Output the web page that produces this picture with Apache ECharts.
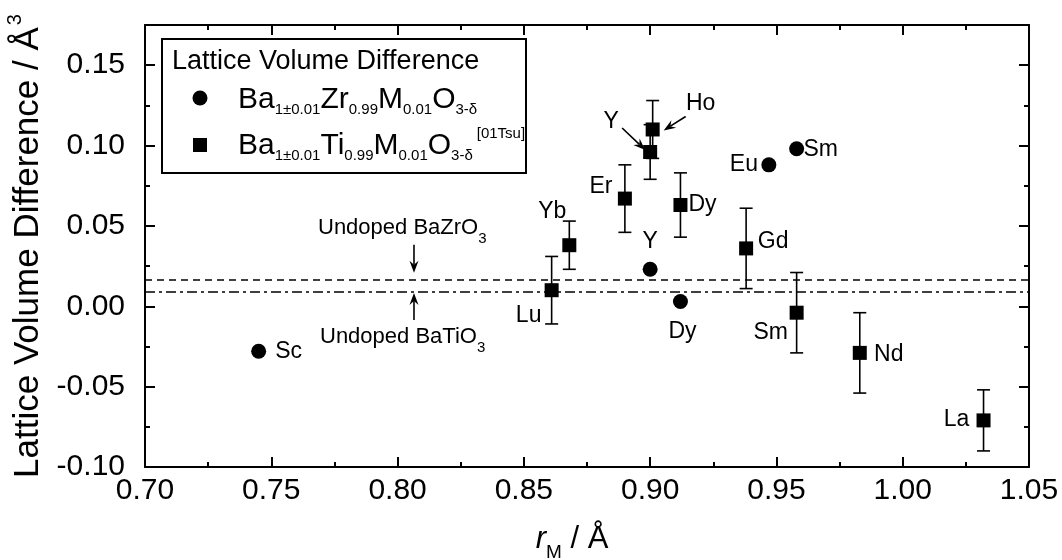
<!DOCTYPE html>
<html><head><meta charset="utf-8">
<script src="https://cdn.jsdelivr.net/npm/echarts@6/dist/echarts.min.js"></script>
<style>html,body{margin:0;padding:0;background:#fff}#c{width:1062px;height:560px}</style>
</head><body><div id="c"></div>
<script>
// ---- data ----
const xMin = 0.70, xMax = 1.05, xStep = 0.05;
const yMin = -0.10, yMax = 0.175, yStep = 0.05;

const zrNames = ['Sc', 'Y', 'Dy', 'Eu', 'Sm'];
const zrR     = [0.745, 0.900, 0.912, 0.947, 0.958];
const zrDV    = [-0.028, 0.023, 0.003, 0.088, 0.098];

const tiNames = ['Lu', 'Yb', 'Er', 'Y', 'Ho', 'Dy', 'Gd', 'Sm', 'Nd', 'La'];
const tiR     = [0.861, 0.868, 0.890, 0.900, 0.901, 0.912, 0.938, 0.958, 0.983, 1.032];
const tiDV    = [0.010, 0.038, 0.067, 0.096, 0.110, 0.063, 0.036, -0.004, -0.029, -0.071];
const tiErr   = [0.021, 0.015, 0.021, 0.017, 0.018, 0.020, 0.025, 0.025, 0.025, 0.019];

const undopedZr = 0.0165;
const undopedTi = 0.0089;
const annotX = 0.8065;

// ---- styling ----
const FONT = '"Liberation Sans", Arial, sans-serif';
const BLACK = '#000';
const labelOffsetZr = {Sc:[30,0], Y:[0,-28], Dy:[2,30], Eu:[-25,0], Sm:[24,1]};
const labelOffsetTi = {Lu:[-23,25], Yb:[-17,-34], Er:[-24,-12], Y:[-39,-30], Ho:[48,-26],
                       Dy:[22,0], Gd:[27,-7], Sm:[-26,20], Nd:[29,2], La:[-27,-1]};

const chart = echarts.init(document.getElementById('c'), null, {renderer: 'canvas'});

const fmt = v => (Math.abs(v) < 1e-9 ? 0 : v).toFixed(2);

function valueAxisCommon(min, max, step) {
  return {
    type: 'value', min: min, max: max, interval: step,
    axisLine: {show: true, onZero: false, lineStyle: {color: BLACK, width: 2}},
    axisTick: {show: true, inside: true, length: 10, lineStyle: {color: BLACK, width: 2}},
    minorTick: {show: true, splitNumber: 2, length: 5, lineStyle: {color: BLACK, width: 2}},
    splitLine: {show: false},
    minorSplitLine: {show: false}
  };
}

const pointLabelStyle = {fontFamily: FONT, fontSize: 23, color: BLACK, opacity: 1};

const option = {
  animation: false,
  backgroundColor: '#fff',
  grid: {left: 145, right: 33, top: 25, bottom: 93, containLabel: false, outerBoundsMode: 'none'},
  xAxis: [
    Object.assign(valueAxisCommon(xMin, xMax, xStep), {
      position: 'bottom',
      axisLabel: {show: true, margin: 9, fontFamily: FONT, fontSize: 30, color: BLACK, formatter: fmt},
      name: '{i|r}{sub|M} / Å',
      nameLocation: 'middle', nameGap: 50,
      nameTextStyle: {
        fontFamily: FONT, fontSize: 31, color: BLACK, padding: [0, 30, 0, 0],
        rich: {
          i: {fontFamily: FONT, fontSize: 31, fontStyle: 'italic', color: BLACK},
          sub: {fontFamily: FONT, fontSize: 19, color: BLACK, padding: [26, 0, 0, 0]}
        }
      }
    }),
    Object.assign(valueAxisCommon(xMin, xMax, xStep), {
      position: 'top', axisLabel: {show: false}
    })
  ],
  yAxis: [
    Object.assign(valueAxisCommon(yMin, yMax, yStep), {
      position: 'left',
      axisLabel: {show: true, margin: 20, fontFamily: FONT, fontSize: 30, color: BLACK,
                  formatter: fmt, showMaxLabel: false},
      name: 'Lattice Volume Difference / Å{sup|3}',
      nameLocation: 'middle', nameGap: 93, nameRotate: 90,
      nameTextStyle: {
        fontFamily: FONT, fontSize: 35, color: BLACK,
        rich: {sup: {fontFamily: FONT, fontSize: 20, color: BLACK, padding: [0, 0, 26, 2]}}
      }
    }),
    Object.assign(valueAxisCommon(yMin, yMax, yStep), {
      position: 'right', axisLabel: {show: false}
    })
  ],
  series: [
    {
      type: 'custom',
      name: 'errorbars',
      xAxisIndex: 0, yAxisIndex: 0,
      z: 2,
      silent: true,
      encode: {x: 0, y: [1, 2]},
      data: tiR.map((r, i) => [r, tiDV[i] - tiErr[i], tiDV[i] + tiErr[i]]),
      renderItem: function (params, api) {
        const x = api.value(0);
        const pLo = api.coord([x, api.value(1)]);
        const pHi = api.coord([x, api.value(2)]);
        const cap = 6.5;
        const st = {stroke: BLACK, lineWidth: 1.6};
        return {type: 'group', children: [
          {type: 'line', shape: {x1: pLo[0], y1: pLo[1], x2: pHi[0], y2: pHi[1]}, style: st},
          {type: 'line', shape: {x1: pLo[0] - cap, y1: pLo[1], x2: pLo[0] + cap, y2: pLo[1]}, style: st},
          {type: 'line', shape: {x1: pHi[0] - cap, y1: pHi[1], x2: pHi[0] + cap, y2: pHi[1]}, style: st}
        ]};
      }
    },
    {
      type: 'scatter',
      name: 'BaZrM',
      xAxisIndex: 0, yAxisIndex: 0,
      z: 3,
      symbol: 'circle', symbolSize: 15,
      itemStyle: {color: BLACK, opacity: 1},
      data: zrR.map((r, i) => ({
        name: zrNames[i], value: [r, zrDV[i]],
        label: {offset: labelOffsetZr[zrNames[i]]}
      })),
      label: Object.assign({show: true, position: 'inside', formatter: '{b}'}, pointLabelStyle),
      markLine: {
        silent: true, symbol: ['none', 'none'], label: {show: false},
        animation: false, precision: 5,
        data: [
          {yAxis: undopedZr, lineStyle: {color: BLACK, width: 1.5, type: [7, 5], opacity: 1}},
          {yAxis: undopedTi, lineStyle: {color: BLACK, width: 1.5, type: [10, 4, 3, 4], opacity: 1}}
        ]
      }
    },
    {
      type: 'scatter',
      name: 'BaTiM',
      xAxisIndex: 0, yAxisIndex: 0,
      z: 3,
      symbol: 'rect', symbolSize: 14,
      itemStyle: {color: BLACK, opacity: 1},
      data: tiR.map((r, i) => ({
        name: tiNames[i], value: [r, tiDV[i]],
        label: {offset: labelOffsetTi[tiNames[i]]}
      })),
      label: Object.assign({show: true, position: 'inside', formatter: '{b}'}, pointLabelStyle)
    }
  ]
};

chart.setOption(option);

// ---- annotations built from data coordinates ----
function arrow(x1, y1, x2, y2) {
  // (x2,y2) is the tip
  const dx = x2 - x1, dy = y2 - y1;
  const L = Math.sqrt(dx * dx + dy * dy);
  const ux = dx / L, uy = dy / L;
  const px = -uy, py = ux;
  const hl = 12, hw = 4.5, notch = 4;
  const bx = x2 - ux * hl, by = y2 - uy * hl;
  const nx = x2 - ux * (hl - notch), ny = y2 - uy * (hl - notch);
  return [
    {type: 'line', silent: true, z: 10,
     shape: {x1: x1, y1: y1, x2: nx, y2: ny}, style: {stroke: BLACK, lineWidth: 1.6}},
    {type: 'polygon', silent: true, z: 10,
     shape: {points: [[x2, y2], [bx + px * hw, by + py * hw], [nx, ny], [bx - px * hw, by - py * hw]]},
     style: {fill: BLACK}}
  ];
}

function txt(text, x, y, size, rich, align) {
  return {type: 'text', silent: true, z: 10,
    style: {text: text, x: x, y: y, fontFamily: FONT, fontSize: size, fill: BLACK,
            align: align || 'left', verticalAlign: 'middle', rich: rich || {}}};
}

const g = [];
// arrows to Y and Ho squares
const iY = tiNames.indexOf('Y'), iHo = tiNames.indexOf('Ho');
const pY = chart.convertToPixel({gridIndex: 0}, [tiR[iY], tiDV[iY]]);
const pHo = chart.convertToPixel({gridIndex: 0}, [tiR[iHo], tiDV[iHo]]);
g.push(...arrow(pY[0] - 28, pY[1] - 24, pY[0] - 5, pY[1] - 2));
g.push(...arrow(pHo[0] + 33, pHo[1] - 13, pHo[0] + 11, pHo[1] + 1));

// undoped lines annotations
const subRich = {s: {fontFamily: FONT, fontSize: 15, fill: BLACK, padding: [22, 0, 0, 0]}};
const pZr = chart.convertToPixel({gridIndex: 0}, [annotX, undopedZr]);
const pTi = chart.convertToPixel({gridIndex: 0}, [annotX, undopedTi]);
g.push(...arrow(pZr[0], pZr[1] - 35, pZr[0], pZr[1] - 7));
g.push(txt('Undoped BaZrO{s|3}', pZr[0] - 96, pZr[1] - 52, 22, subRich));
g.push(...arrow(pTi[0], pTi[1] + 28, pTi[0], pTi[1] + 1));
g.push(txt('Undoped BaTiO{s|3}', pTi[0] - 94, pTi[1] + 45, 22, subRich));

// legend box
const legRich = {
  s: {fontFamily: FONT, fontSize: 15, fill: BLACK, padding: [20, 0, 0, 0]},
  p: {fontFamily: FONT, fontSize: 15, fill: BLACK, padding: [0, 0, 24, 4]}
};
g.push({type: 'rect', silent: true, z: 20,
        shape: {x: 162, y: 39, width: 364, height: 134},
        style: {fill: '#fff', stroke: BLACK, lineWidth: 2}});
g.push(Object.assign(txt('Lattice Volume Difference', 172, 62, 27), {z: 21}));
g.push({type: 'circle', silent: true, z: 21, shape: {cx: 200, cy: 98, r: 7.5}, style: {fill: BLACK}});
g.push({type: 'rect', silent: true, z: 21, shape: {x: 193, y: 138, width: 14, height: 14}, style: {fill: BLACK}});
g.push(Object.assign(txt('Ba{s|1±0.01}Zr{s|0.99}M{s|0.01}O{s|3-δ}', 238, 100, 30, legRich), {z: 21}));
g.push(Object.assign(txt('Ba{s|1±0.01}Ti{s|0.99}M{s|0.01}O{s|3-δ}{p|[01Tsu]}', 238, 146, 30, legRich), {z: 21}));

chart.setOption({graphic: g});
</script>
</body></html>
